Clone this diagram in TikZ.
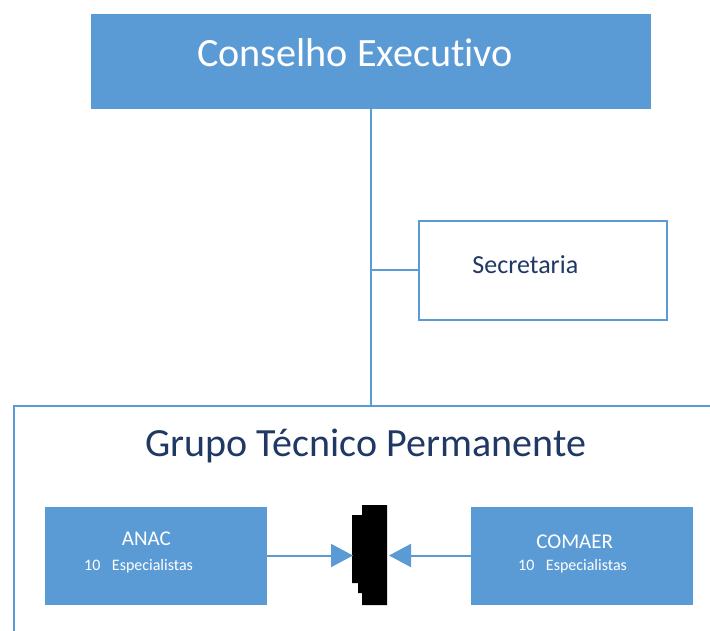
\documentclass[tikz,border=0pt]{standalone}
\usepackage{fontspec}
\setmainfont[Ligatures=NoCommon]{Carlito}
\usetikzlibrary{arrows.meta}
\definecolor{boxblue}{RGB}{91,155,213}
\definecolor{navy}{RGB}{31,56,100}
\tikzset{
  filledbox/.style={draw=none,fill=boxblue,inner sep=0pt,minimum width=#1},
  outlinebox/.style={draw=boxblue,fill=white,line width=1.6pt,inner sep=0pt},
  conn/.style={draw=boxblue,line width=2.4pt},
  arrowconn/.style={draw=boxblue,line width=2pt,-{Triangle[length=22pt,width=23pt]}},
  lbl/.style={inner sep=0pt,anchor=base},
  lblw/.style={inner sep=0pt,anchor=base west},
}
\begin{document}
\begin{tikzpicture}[x=1pt,y=-1pt]
\useasboundingbox (0,0) rectangle (710,630);
\fill[white] (0,0) rectangle (710,630);
% big group box (extends past page)
\node[outlinebox,line width=2.2pt,minimum width=720pt,minimum height=240pt,anchor=north west] (grupo) at (13,405) {};
% top box
\node[filledbox=560pt,minimum height=95pt,anchor=north west] (conselho) at (91,14) {};
\node[lbl,text=white,font=\fontsize{40.2}{44}\selectfont] (tconselho) at (355,66.7) {Conselho Executivo};
% secretaria
\node[outlinebox,minimum width=248pt,minimum height=99pt,anchor=north west] (secretaria) at (418,220) {};
\node[lbl,text=navy,font=\fontsize{26}{30}\selectfont] (tsecretaria) at (525.3,273.3) {Secretaria};
% connectors
\draw[conn] (conselho.south) -- (conselho.south |- grupo.north);
\draw[conn,line width=1.8pt] (conselho.south |- secretaria.west) -- (secretaria.west);
% group title
\node[lbl,text=navy,font=\fontsize{40}{44}\selectfont] (tgrupo) at (365.8,456.7) {Grupo Técnico Permanente};
% ANAC
\node[filledbox=222pt,minimum height=98pt,anchor=north west] (anac) at (45,507) {};
\node[lbl,text=white,font=\fontsize{21}{24}\selectfont] (tanac) at (146.4,545) {ANAC};
\node[lblw,text=white,font=\fontsize{16}{19}\selectfont] (tanac2) at (84,570.7) {10\hspace{0.72em}Especialistas};
% COMAER
\node[filledbox=222pt,minimum height=98pt,anchor=north west] (comaer) at (471,507) {};
\node[lbl,text=white,font=\fontsize{21}{24}\selectfont] (tcomaer) at (574.7,548.3) {COMAER};
\node[lblw,text=white,font=\fontsize{16}{19}\selectfont] (tcomaer2) at (518,570.7) {10\hspace{0.72em}Especialistas};
% black blob in the middle
\fill[black] (362,505) -- (387,505) -- (387,605) -- (362,605) -- (362,593) -- (358,593) -- (358,583) -- (352,583) -- (352,515) -- (362,515) -- cycle;
\coordinate (blobw) at (353,555.5);
\coordinate (blobe) at (389,555.5);
% arrows
\draw[arrowconn] (anac.east |- blobw) -- (blobw);
\draw[arrowconn] (comaer.west |- blobe) -- (blobe);
\end{tikzpicture}
\end{document}
